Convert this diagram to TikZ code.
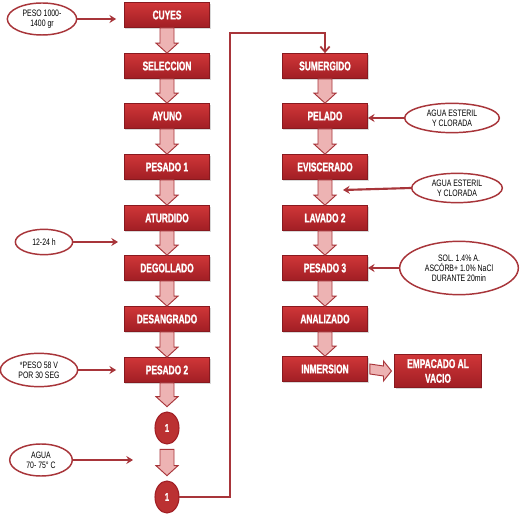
\documentclass[tikz,border=0pt]{standalone}
\usepackage{fontspec}
\setmainfont{Liberation Sans}
\newfontfamily\narrowfont[FakeStretch=0.74]{Liberation Sans}
\newfontfamily\heavyfont[FakeStretch=0.66, FakeBold=1.2]{Liberation Sans Bold}
\usetikzlibrary{arrows.meta, shapes.geometric, shadows, calc, positioning}
\definecolor{cyRed}{HTML}{D03638}
\definecolor{cyDark}{HTML}{A01E24}
\definecolor{cyLine}{HTML}{A8353A}
\definecolor{cyPink}{HTML}{EDB3B3}
\tikzset{
  stepbox/.style = {rectangle, top color=cyRed, bottom color=cyDark, draw=cyDark!85!black,
                    line width=0.3pt, minimum width=64pt, minimum height=19pt, text=white,
                    font=\heavyfont\fontsize{9.5}{11}\selectfont, align=center,
                    drop shadow={shadow xshift=0.8pt, shadow yshift=-1.2pt, opacity=0.3}},
  note/.style    = {ellipse, draw=cyLine, line width=1.1pt, fill=white, inner sep=0pt,
                    align=center, font=\narrowfont\fontsize{7}{7.6}\selectfont},
  joint/.style   = {ellipse, fill=cyRed!90!black, draw=cyDark, line width=0.8pt, minimum width=18pt,
                    minimum height=24pt, inner sep=0pt, outer sep=4pt, text=white,
                    font=\heavyfont\fontsize{8.5}{9}\selectfont},
  feed/.style    = {-{Stealth[length=5pt,width=6pt]}, cyLine, line width=1.6pt},
  link/.style    = {-{Straight Barb[length=4pt,width=7pt]}, cyLine, line width=1.3pt},
  fat/.style     = {fill=cyPink, draw=cyLine, line width=0.7pt},
}
\newcommand{\fatdown}[2]{%
  \path[fat] ($(#1.south)+(-7,0)$) -- ($(#2.north)+(-7,-10)$) -- ($(#2.north)+(-11,-10)$)
    -- (#2.north) -- ($(#2.north)+(11,-10)$) -- ($(#2.north)+(7,-10)$) -- ($(#1.south)+(7,0)$) -- cycle;}
\newcommand{\fatright}[2]{%
  \path[fat] ($(#1.east)+(2,-5)$) -- ($(#2.west)+(-11,-5)$) -- ($(#2.west)+(-11,-10)$)
    -- ($(#2.west)+(-3,0)$) -- ($(#2.west)+(-11,10)$) -- ($(#2.west)+(-11,5)$) -- ($(#1.east)+(2,5)$) -- cycle;}

\begin{document}
\begin{tikzpicture}[x=0.75pt,y=-0.75pt]
  \fill[white] (0,0) rectangle (521,516);
  \path[use as bounding box] (0,0) rectangle (521,516);
  \foreach \y/\n/\t in {15/L1/CUYES, 66/L2/SELECCION, 116/L3/AYUNO, 167/L4/PESADO 1,
      218/L5/ATURDIDO, 268/L6/DEGOLLADO, 319/L7/DESANGRADO, 370/L8/PESADO 2}
    \node[stepbox] (\n) at (167,\y) {\t};
  \foreach \y/\n/\t in {66/R1/SUMERGIDO, 116/R2/PELADO, 167/R3/EVISCERADO, 218/R4/LAVADO 2,
      268/R5/PESADO 3, 319/R6/ANALIZADO, 369/R7/INMERSION}
    \node[stepbox] (\n) at (325,\y) {\t};
  \node[stepbox, minimum width=65pt, minimum height=25pt] (R8) at (438,371) {EMPACADO AL\\VACIO};
  \node[joint] (C1) at (167,428) {1};
  \node[joint] (C2) at (167,497) {1};
  \foreach \a/\b in {L1/L2, L2/L3, L3/L4, L4/L5, L5/L6, L6/L7, L7/L8, L8/C1, C1/C2,
      R1/R2, R2/R3, R3/R4, R4/R5, R5/R6, R6/R7}
    \fatdown{\a}{\b};
  \fatright{R7}{R8};
  \node[note, minimum width=52pt, minimum height=24pt] (N1) at (42,19) {PESO 1000-\\1400 gr};
  \node[note, minimum width=43pt, minimum height=19pt] (N2) at (44,242) {12-24 h};
  \node[note, minimum width=58pt, minimum height=25pt] (N3) at (39,370) {*PESO 58 V\\POR 30 SEG};
  \node[note, minimum width=47pt, minimum height=24pt] (N4) at (41,460) {AGUA\\70- 75° C};
  \node[note, minimum width=71pt, minimum height=22pt] (N5) at (452,118) {AGUA ESTERIL\\Y CLORADA};
  \node[note, minimum width=68pt, minimum height=22pt] (N6) at (457,188) {AGUA ESTERIL\\Y CLORADA};
  \node[note, minimum width=89pt, minimum height=40pt] (N7) at (459,268)
    {SOL. 1.4\% A.\\ASCÓRB+ 1.0\% NaCl\\DURANTE 20min};
  \coordinate (P1) at (118,242);
  \coordinate (P2) at (133,460);
  \coordinate (P3) at (343,190);
  \coordinate (turn) at (230,33);
  \draw[feed, shorten >=6pt] (N1.east) -- (N1.east -| L1.west);
  \draw[feed] (N2.east) -- (P1);
  \draw[feed, shorten >=6pt] (N3.east) -- (N3.east -| L8.west);
  \draw[feed] (N4.east) -- (P2);
  \draw[feed] (N5.west) -- (N5.west -| R2.east);
  \draw[feed] (N6.west) -- (P3);
  \draw[feed] (N7.west) -- (N7.west -| R5.east);
  \draw[link, shorten <=-4pt] (C2.east) -| (turn) -| (R1.north);
\end{tikzpicture}
\end{document}
